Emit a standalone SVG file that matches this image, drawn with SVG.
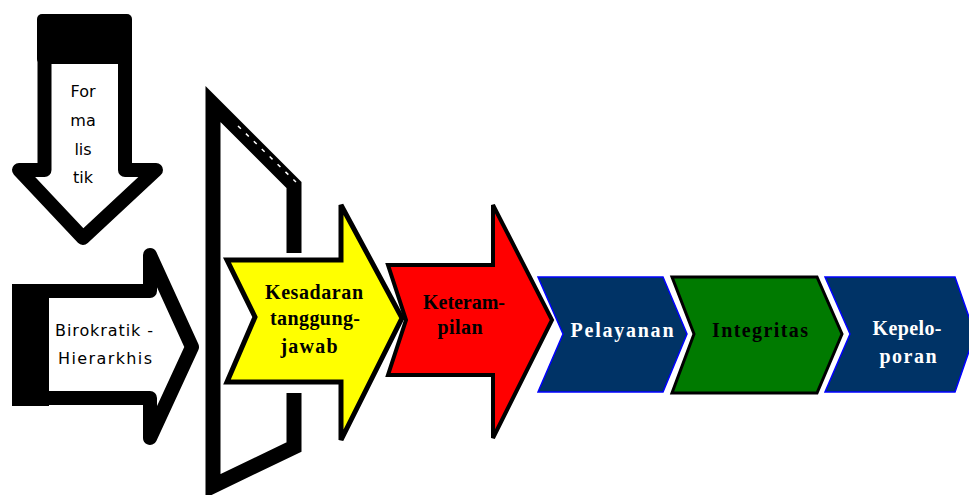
<svg xmlns="http://www.w3.org/2000/svg" width="969" height="495" viewBox="0 0 969 495">
<style>
.outline{fill:#fff;stroke:#000;stroke-width:14;stroke-linejoin:round}
.sans{font-family:"DejaVu Sans","Liberation Sans",sans-serif;font-size:16px;fill:#000;text-anchor:middle}
.serif{font-family:"Liberation Serif","Times New Roman",serif;font-weight:bold;font-size:20px;text-anchor:middle}
.navy{fill:#003366;stroke:#0000ff;stroke-width:1.5}
</style>
<rect width="969" height="495" fill="#fff"/>
<g id="formalistik">
<polygon class="outline" points="44.5,55 125,55 125,170 156,170 83,238 19,170 44.5,170"/>
<rect x="37" y="14" width="95" height="50" rx="5" fill="#000"/>
<text class="sans" x="83" y="97">For</text>
<text class="sans" x="83" y="126">ma</text>
<text class="sans" x="83" y="155">lis</text>
<text class="sans" x="83" y="183">tik</text>
</g>
<g id="birokratik">
<polygon class="outline" points="20,291 150,291 150,255 192,347 150,438 150,398 20,398"/>
<rect x="12" y="284" width="37" height="122" fill="#000"/>
<text class="sans" x="104" y="336" textLength="98" lengthAdjust="spacing">Birokratik -</text>
<text class="sans" x="105" y="364" textLength="94" lengthAdjust="spacing">Hierarkhis</text>
</g>
<g id="bracket">
<path d="M294,253 V185 L213,104 V486 L294,447 V393" fill="none" stroke="#000" stroke-width="15" stroke-linejoin="miter"/>
<line x1="238" y1="126" x2="296" y2="182" stroke="#fff" stroke-width="1.5" stroke-dasharray="4 7"/>
</g>
<g id="kesadaran">
<polygon points="227,260 341,260 341,205 402,318 341,440 341,382 227,382 255,317" fill="#ffff00" stroke="#000" stroke-width="5" stroke-linejoin="miter"/>
<text class="serif" x="314" y="299" textLength="98" lengthAdjust="spacing">Kesadaran</text>
<text class="serif" x="315" y="325" textLength="90" lengthAdjust="spacing">tanggung-</text>
<text class="serif" x="309" y="353" textLength="57" lengthAdjust="spacing">jawab</text>
</g>
<g id="keterampilan">
<polygon points="388,265 493,265 493,205 552,320 493,438 493,375 388,375 406,320" fill="#ff0000" stroke="#000" stroke-width="4" stroke-linejoin="miter"/>
<text class="serif" x="464" y="309" textLength="82" lengthAdjust="spacing">Keteram-</text>
<text class="serif" x="460" y="334" textLength="45" lengthAdjust="spacing">pilan</text>
</g>
<g id="pelayanan">
<polygon class="navy" points="538,277 663,277 687,334 663,392 538,392 563,334"/>
<text class="serif" x="622" y="337" fill="#fff" textLength="103" lengthAdjust="spacing">Pelayanan</text>
</g>
<g id="integritas">
<polygon points="672,277 817,277 842,334 817,393 672,393 694,334" fill="#007a00" stroke="#000" stroke-width="3"/>
<text class="serif" x="760" y="337" fill="#000" textLength="96" lengthAdjust="spacing">Integritas</text>
</g>
<g id="kepeloporan">
<polygon class="navy" points="825,277 955,277 975,334 955,392 825,392 850,334"/>
<text class="serif" x="907" y="335" fill="#fff" textLength="69" lengthAdjust="spacing">Kepelo-</text>
<text class="serif" x="908" y="363" fill="#fff" textLength="57" lengthAdjust="spacing">poran</text>
</g>
<g id="connectors"></g>
</svg>
